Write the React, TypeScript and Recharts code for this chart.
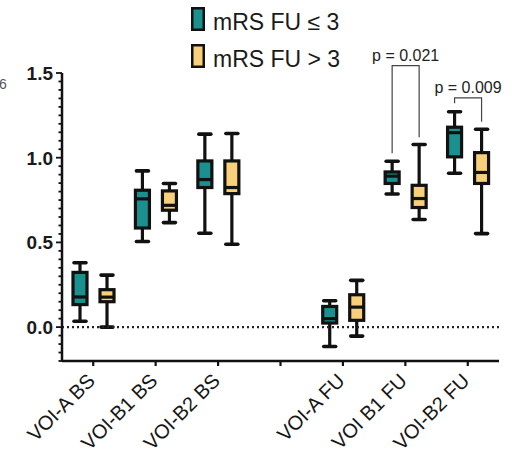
import React from 'react';
import { BarChart, Bar, XAxis, YAxis, ReferenceLine } from 'recharts';

const FONT = '"Liberation Sans", Arial, Helvetica, sans-serif';
const TEAL = '#1a918f';
const YELLOW = '#f8d07c';
const INK = '#111111';

const categories = ['VOI-A BS', 'VOI-B1 BS', 'VOI-B2 BS', '', 'VOI-A FU', 'VOI B1 FU', 'VOI-B2 FU'];

// mRS FU <= 3 (teal)
const tealMin = [0.035, 0.505, 0.554, null, -0.114, 0.786, 0.908];
const tealQ1 = [0.133, 0.585, 0.824, null, 0.024, 0.848, 1.005];
const tealMed = [0.178, 0.757, 0.871, null, 0.05, 0.891, 1.148];
const tealQ3 = [0.323, 0.808, 0.981, null, 0.122, 0.916, 1.18];
const tealMax = [0.38, 0.922, 1.139, null, 0.156, 0.979, 1.271];

// mRS FU > 3 (yellow)
const yelMin = [0.0, 0.617, 0.489, null, -0.053, 0.635, 0.552];
const yelQ1 = [0.15, 0.69, 0.788, null, 0.04, 0.706, 0.848];
const yelMed = [0.177, 0.719, 0.824, null, 0.118, 0.759, 0.913];
const yelQ3 = [0.221, 0.804, 0.981, null, 0.191, 0.837, 1.03];
const yelMax = [0.307, 0.848, 1.143, null, 0.276, 1.078, 1.168];

// significance brackets
const pLabels = [null, null, null, null, null, 'p = 0.021', 'p = 0.009'];
const bracketTop = [null, null, null, null, null, 1.543, 1.353];
const bracketLeftEnd = [null, null, null, null, null, 1.027, 1.322];
const bracketRightEnd = [null, null, null, null, null, 1.121, 1.212];

const legendLabels = ['mRS FU \u2264 3', 'mRS FU > 3'];
const majorTicks = [0, 0.5, 1.0, 1.5];
const yDomain = [-0.2, 1.5];
const allYTicks = Array.from({ length: 35 }, (_, i) => Math.round((-0.2 + i * 0.05) * 100) / 100);

const BAR_SIZE = 14;
const BAR_GAP = 13;

const data = categories.map((name, i) => ({
  name,
  teal: tealMin[i] == null ? null : [tealMin[i], tealMax[i]],
  yel: yelMin[i] == null ? null : [yelMin[i], yelMax[i]],
  tStats: tealMin[i] == null ? null : [tealMin[i], tealQ1[i], tealMed[i], tealQ3[i], tealMax[i]],
  yStats: yelMin[i] == null ? null : [yelMin[i], yelQ1[i], yelMed[i], yelQ3[i], yelMax[i]],
  p: pLabels[i],
  bTop: bracketTop[i],
  bLeft: bracketLeftEnd[i],
  bRight: bracketRightEnd[i],
}));

function makeBoxShape(statsKey: string, fill: string, withBracket: boolean) {
  return (props: any) => {
    const { x, y, width, height, payload } = props;
    const stats = payload ? payload[statsKey] : null;
    if (!stats || x == null || y == null) return <g />;
    const [mn, q1, med, q3, mx] = stats;
    const yHi = y;
    const yLo = y + height;
    const toY = (v: number) => yLo + ((yHi - yLo) * (v - mn)) / (mx - mn);
    const cx = x + width / 2;
    const capHalf = 6;
    const sw = 3.2;
    const els: any[] = [];
    els.push(
      <line key="wt" x1={cx} x2={cx} y1={toY(mx)} y2={toY(q3)} stroke={INK} strokeWidth={sw} />,
      <line key="wb" x1={cx} x2={cx} y1={toY(q1)} y2={toY(mn)} stroke={INK} strokeWidth={sw} />,
      <line key="ct" x1={cx - capHalf} x2={cx + capHalf} y1={toY(mx)} y2={toY(mx)} stroke={INK} strokeWidth={3.6} strokeLinecap="round" />,
      <line key="cb" x1={cx - capHalf} x2={cx + capHalf} y1={toY(mn)} y2={toY(mn)} stroke={INK} strokeWidth={3.6} strokeLinecap="round" />,
      <rect key="box" x={x} y={toY(q3)} width={width} height={toY(q1) - toY(q3)} fill={fill} stroke={INK} strokeWidth={sw} />,
      <line key="med" x1={x} x2={x + width} y1={toY(med)} y2={toY(med)} stroke={INK} strokeWidth={sw} />
    );
    if (withBracket && payload.p) {
      const leftX = cx - (width + BAR_GAP);
      const rightX = cx;
      const topY = toY(payload.bTop);
      els.push(
        <path
          key="br"
          d={`M${leftX},${toY(payload.bLeft)} L${leftX},${topY} L${rightX},${topY} L${rightX},${toY(payload.bRight)}`}
          fill="none"
          stroke="#444"
          strokeWidth={1.2}
        />,
        <text
          key="pt"
          x={(leftX + rightX) / 2}
          y={topY - 5}
          textAnchor="middle"
          fontSize={16}
          fontFamily={FONT}
          fill="#222"
        >
          {payload.p}
        </text>
      );
    }
    return <g>{els}</g>;
  };
}

const YTick = (props: any) => {
  const { x, y, payload } = props;
  const v = payload.value;
  const major = majorTicks.some((m) => Math.abs(m - v) < 1e-6);
  return (
    <g>
      <line x1={x - (major ? 6 : 3.5)} x2={x} y1={y} y2={y} stroke={INK} strokeWidth={1.8} />
      {major && (
        <text x={x - 9} y={y} dy="0.36em" textAnchor="end" fontSize={19} fontWeight="bold" fontFamily={FONT} fill="#1a1a1a">
          {v.toFixed(1)}
        </text>
      )}
    </g>
  );
};

const XTick = (props: any) => {
  const { x, y, payload } = props;
  if (!payload.value) return <g />;
  const ax = x + 3;
  const ay = y + 14;
  return (
    <text x={ax} y={ay} transform={`rotate(-45, ${ax}, ${ay})`} textAnchor="end" fontSize={20} fontFamily={FONT} fill="#161616">
      {payload.value}
    </text>
  );
};

export default function App() {
  return (
    <div style={{ position: 'absolute', left: 0, top: 0, width: 520, height: 455, background: '#fff' }}>
      <BarChart
        width={520}
        height={455}
        data={data}
        margin={{ top: 73, right: 21, bottom: 0, left: 0 }}
        barSize={BAR_SIZE}
        barGap={BAR_GAP}
      >
        <XAxis
          dataKey="name"
          height={94}
          interval={0}
          tickSize={5}
          tickMargin={2}
          axisLine={{ stroke: INK, strokeWidth: 2.5 }}
          tickLine={{ stroke: INK, strokeWidth: 2.2 }}
          tick={<XTick />}
        />
        <YAxis
          width={62}
          type="number"
          domain={yDomain}
          ticks={allYTicks}
          interval={0}
          tickSize={0}
          tickMargin={0}
          tickLine={false}
          axisLine={{ stroke: INK, strokeWidth: 2.5 }}
          tick={<YTick />}
          allowDataOverflow={false}
        />
        <ReferenceLine y={0} stroke="#222" strokeWidth={2.4} strokeDasharray="2 3" />
        <Bar dataKey="teal" fill={TEAL} isAnimationActive={false} shape={makeBoxShape('tStats', TEAL, false)} />
        <Bar dataKey="yel" fill={YELLOW} isAnimationActive={false} shape={makeBoxShape('yStats', YELLOW, true)} />
      </BarChart>
      <svg width={520} height={455} style={{ position: 'absolute', left: 0, top: 0, pointerEvents: 'none' }}>
        <rect x={192.25} y={8.25} width={11.5} height={21.5} fill={TEAL} stroke={INK} strokeWidth={2.5} />
        <text x={213} y={30} fontSize={23} fontFamily={FONT} fill="#1a1a1a">{legendLabels[0]}</text>
        <rect x={192.25} y={45.25} width={11.5} height={21.5} fill={YELLOW} stroke={INK} strokeWidth={2.5} />
        <text x={213} y={67} fontSize={23} fontFamily={FONT} fill="#1a1a1a">{legendLabels[1]}</text>
        <text x={-1} y={89} fontSize={14} fontFamily={FONT} fill="#555">6</text>
      </svg>
    </div>
  );
}
